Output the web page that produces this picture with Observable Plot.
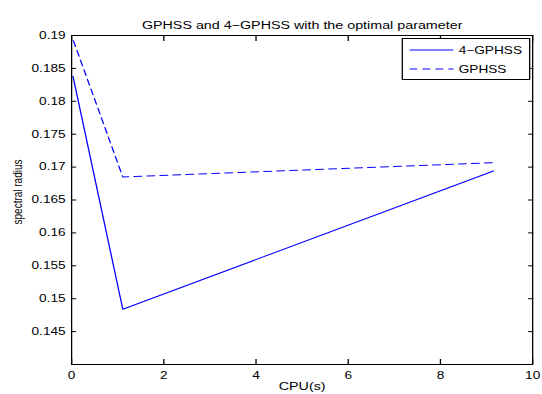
<!DOCTYPE html>
<html>
<head>
<meta charset="utf-8">
<script src="https://cdn.jsdelivr.net/npm/d3@7"></script>
<script src="https://cdn.jsdelivr.net/npm/@observablehq/plot@0.6"></script>
<style>
  html, body { margin: 0; padding: 0; background: #fff; overflow: hidden; }
  #wrap { position: relative; width: 417px; height: 394px; font-family: "Liberation Sans", Arial, sans-serif;
          transform: scaleX(1.2998); transform-origin: 0 0; }
  #legend { position: absolute; left: 308.5px; top: 38px; width: 99.4px; height: 42px; border: 1px solid #000; background: #fff; box-sizing: border-box; }
  #legend .row { position: absolute; left: 5.4px; height: 18px; display: flex; align-items: center; font-size: 10.5px; color: #000; white-space: nowrap; }
  #legend svg { margin-right: 4px; }
</style>
</head>
<body>
<div id="wrap"></div>
<script>
const titleText = "GPHSS and 4\u2212GPHSS with the optimal parameter";
const xLabel = "CPU(s)";
const yLabel = "spectral radius";
const seriesNames = ["4\u2212GPHSS", "GPHSS"];
const cpu4 = [0.03, 1.11, 9.15];
const rho4 = [0.1838, 0.1484, 0.1694];
const cpuG = [0.04, 1.11, 9.2];
const rhoG = [0.1892, 0.1685, 0.1707];
const xTicks = [0, 2, 4, 6, 8, 10];
const yTicks = [0.145, 0.15, 0.155, 0.16, 0.165, 0.17, 0.175, 0.18, 0.185, 0.19];

const data4 = cpu4.map((x, i) => ({x, y: rho4[i]}));
const dataG = cpuG.map((x, i) => ({x, y: rhoG[i]}));
const blue = "#0000ff";
const fmtY = d => String(+d.toFixed(3));

const chart = Plot.plot({
  width: 417, height: 394,
  marginLeft: 54.6, marginRight: 7.7, marginTop: 35, marginBottom: 30,
  style: {fontFamily: "Liberation Sans, Arial, sans-serif", fontSize: "10.5px", color: "#000", background: "#fff"},
  x: {domain: [0, 10]},
  y: {domain: [0.14, 0.19]},
  marks: [
    Plot.axisX(xTicks, {anchor: "bottom", tickSize: -5, text: null, label: null}),
    Plot.axisX(xTicks, {anchor: "top", tickSize: -5, text: null, label: null}),
    Plot.axisX(xTicks, {anchor: "bottom", tickSize: 0, tickPadding: 7, label: null, fontSize: 10.5}),
    Plot.axisY(yTicks, {anchor: "left", tickSize: -4, text: null, label: null}),
    Plot.axisY(yTicks, {anchor: "right", tickSize: -4, text: null, label: null}),
    Plot.axisY(yTicks, {anchor: "left", tickSize: 0, tickPadding: 4.6, tickFormat: fmtY, label: null, fontSize: 10.5}),
    Plot.lineY(dataG, {x: "x", y: "y", stroke: blue, strokeWidth: 1, strokeDasharray: "6,4"}),
    Plot.lineY(data4, {x: "x", y: "y", stroke: blue, strokeWidth: 1}),
    Plot.frame({stroke: "#000", strokeWidth: 1}),
    Plot.text([titleText], {frameAnchor: "top", dy: -14, fontSize: 11}),
    Plot.text([xLabel], {frameAnchor: "bottom", dy: 25, fontSize: 11}),
    Plot.text([yLabel], {frameAnchor: "left", textAnchor: "middle", dx: -41, dy: -8, rotate: -90, fontSize: 10})
  ]
});
const wrap = document.getElementById("wrap");
wrap.appendChild(chart);

const legend = document.createElement("div");
legend.id = "legend";
const dashes = [null, "6,4"];
seriesNames.forEach((name, i) => {
  const row = document.createElement("div");
  row.className = "row";
  row.style.top = (2 + i * 19) + "px";
  row.innerHTML = `<svg width="34" height="4"><line x1="0" x2="34" y1="2" y2="2" stroke="${blue}" stroke-width="1" ${dashes[i] ? `stroke-dasharray="${dashes[i]}"` : ""}/></svg><span>${name}</span>`;
  legend.appendChild(row);
});
wrap.appendChild(legend);
</script>
</body>
</html>
